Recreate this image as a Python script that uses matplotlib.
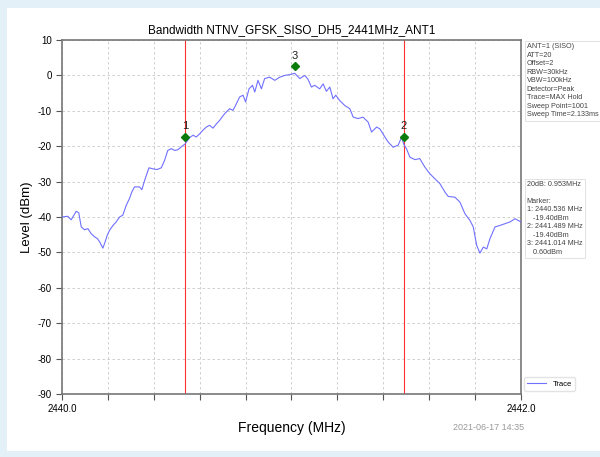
import matplotlib
matplotlib.use("Agg")
import matplotlib.pyplot as plt
from matplotlib.patches import Rectangle
import numpy as np

plt.rcParams['font.family'] = ['Liberation Sans', 'DejaVu Sans']
plt.rcParams['axes.unicode_minus'] = False

# spectrum trace (MHz, dBm)
freq = [2440.000, 2440.025, 2440.040, 2440.062, 2440.073, 2440.084, 2440.098, 2440.113,
        2440.127, 2440.142, 2440.154, 2440.164, 2440.178, 2440.185, 2440.197, 2440.207,
        2440.222, 2440.236, 2440.251, 2440.265, 2440.280, 2440.294, 2440.304, 2440.316,
        2440.338, 2440.348, 2440.360, 2440.379, 2440.396, 2440.414, 2440.433, 2440.447,
        2440.461, 2440.476, 2440.491, 2440.505, 2440.527, 2440.536, 2440.556, 2440.571,
        2440.585, 2440.600, 2440.614, 2440.629, 2440.643, 2440.658, 2440.673, 2440.687,
        2440.709, 2440.731, 2440.745, 2440.760, 2440.774, 2440.789, 2440.800, 2440.815,
        2440.830, 2440.840, 2440.854, 2440.869, 2440.883, 2440.905, 2440.927, 2440.949,
        2440.971, 2440.992, 2441.014, 2441.036, 2441.058, 2441.072, 2441.087, 2441.101,
        2441.123, 2441.138, 2441.152, 2441.167, 2441.181, 2441.193, 2441.210, 2441.232,
        2441.254, 2441.269, 2441.290, 2441.312, 2441.334, 2441.349, 2441.371, 2441.385,
        2441.407, 2441.421, 2441.443, 2441.465, 2441.480, 2441.489, 2441.501, 2441.516,
        2441.538, 2441.559, 2441.581, 2441.603, 2441.625, 2441.647, 2441.669, 2441.683,
        2441.712, 2441.734, 2441.756, 2441.778, 2441.792, 2441.807, 2441.821, 2441.836,
        2441.851, 2441.865, 2441.887, 2441.908, 2441.930, 2441.952, 2441.974, 2442.000]
level = [-40.0, -39.8, -40.8, -38.4, -38.8, -42.8, -43.6, -43.3,
         -44.7, -45.6, -46.1, -47.0, -48.8, -47.6, -45.2, -43.8,
         -42.4, -41.4, -40.0, -39.5, -36.7, -34.8, -33.0, -31.5,
         -31.5, -32.3, -29.7, -26.1, -26.4, -26.6, -26.1, -24.0,
         -21.2, -20.7, -21.2, -21.0, -19.8, -19.4, -17.6, -16.9,
         -17.4, -16.5, -15.5, -14.6, -14.1, -14.9, -13.7, -12.7,
         -10.8, -9.4, -9.9, -8.0, -6.1, -5.6, -7.5, -3.8,
         -2.8, -4.7, -1.4, -3.8, -0.9, -0.5, -1.4, -0.5,
         0.0, 0.2, 0.6, -0.9, 0.0, -1.1, -3.3, -2.8,
         -3.8, -2.4, -4.5, -3.3, -6.6, -5.6, -7.1, -8.5,
         -9.4, -11.8, -12.2, -11.8, -13.2, -16.0, -14.6, -15.1,
         -17.4, -18.8, -20.3, -19.7, -17.4, -19.4, -20.7, -23.1,
         -23.8, -23.5, -25.9, -27.8, -29.2, -30.6, -33.0, -34.2,
         -34.4, -35.8, -39.1, -41.0, -42.8, -48.0, -50.2, -48.5,
         -49.0, -46.1, -42.8, -42.4, -41.9, -41.4, -40.5, -41.4]

offset = 2
marker_ids = ['1', '2', '3']
marker_freq = [2440.536, 2441.489, 2441.014]
marker_level = [-19.40, -19.40, 0.60]
bw_20db = 0.953

settings = ['ANT=1 (SISO)', 'ATT=20', 'Offset=2', 'RBW=30kHz', 'VBW=100kHz',
            'Detector=Peak', 'Trace=MAX Hold', 'Sweep Point=1001', 'Sweep Time=2.133ms']

fig = plt.figure(figsize=(6, 4.57), dpi=100)
fig.patch.set_facecolor('#e4f0f8')
fig.patches.append(Rectangle((0.011, 0.013), 0.989, 0.970, transform=fig.transFigure,
                             facecolor='white', edgecolor='none', zorder=-10))

ax = fig.add_axes([0.1033, 0.1379, 0.765, 0.7746])
ax.set_zorder(1)
ax.plot(freq, level, color='#7070ff', lw=0.8, label='Trace', zorder=3)

# red lines at the -20 dB edges, diamonds at reading + offset
for fx in marker_freq[:2]:
    ax.axvline(fx, color='#ff3030', lw=0.8, zorder=2)
for mid, fx, lv in zip(marker_ids, marker_freq, marker_level):
    ax.plot(fx, lv + offset, marker='D', color='#0a7a0a', ms=4.5, zorder=4)
    ax.text(fx, lv + offset + 1.6, mid, ha='center', va='bottom', fontsize=8, color='#222222')

ax.set_xlim(2440.0, 2442.0)
ax.set_ylim(-90, 10)
ax.set_xticks(np.arange(2440.0, 2442.01, 0.2))
ax.set_xticklabels(['2440.0'] + [''] * 9 + ['2442.0'])
ax.set_yticks(np.arange(-90, 11, 10))
ax.tick_params(axis='both', labelsize=7, direction='out', length=4, color='#555555')
ax.grid(True, linestyle=(0, (3, 3)), color='#c8c8c8', lw=0.6)
for sp in ax.spines.values():
    sp.set_color('#777777')
    sp.set_linewidth(1.2)

ax.set_title('Bandwidth NTNV_GFSK_SISO_DH5_2441MHz_ANT1', fontsize=8.5, pad=5)
ax.set_ylabel('Level (dBm)', fontsize=9.5, labelpad=3)
ax.set_xlabel('Frequency (MHz)', fontsize=10, labelpad=5)

props = dict(boxstyle='square,pad=0.3', facecolor='white', edgecolor='#dddddd', lw=0.6)
fig.text(0.878, 0.905, '\n'.join(settings), fontsize=5.2, va='top', ha='left',
         color='#444444', linespacing=1.3, bbox=props)

marker_lines = [f'20dB: {bw_20db:.3f}MHz', '', 'Marker:']
for mid, fx, lv in zip(marker_ids, marker_freq, marker_level):
    marker_lines.append(f'{mid}: {fx:.3f} MHz')
    marker_lines.append(f'   {lv:.2f}dBm')
fig.text(0.878, 0.604, '\n'.join(marker_lines), fontsize=5.2, va='top', ha='left',
         color='#444444', linespacing=1.3, bbox=props)

ax.legend(loc='lower left', bbox_to_anchor=(1.0, 0.0), fontsize=5.5, frameon=True,
          handlelength=2.5, borderaxespad=0.4, edgecolor='#dddddd', fancybox=True)

fig.text(0.755, 0.058, '2021-06-17 14:35', fontsize=6.5, color='#999999')

fig.savefig('out.png', dpi=100, facecolor=fig.get_facecolor())
